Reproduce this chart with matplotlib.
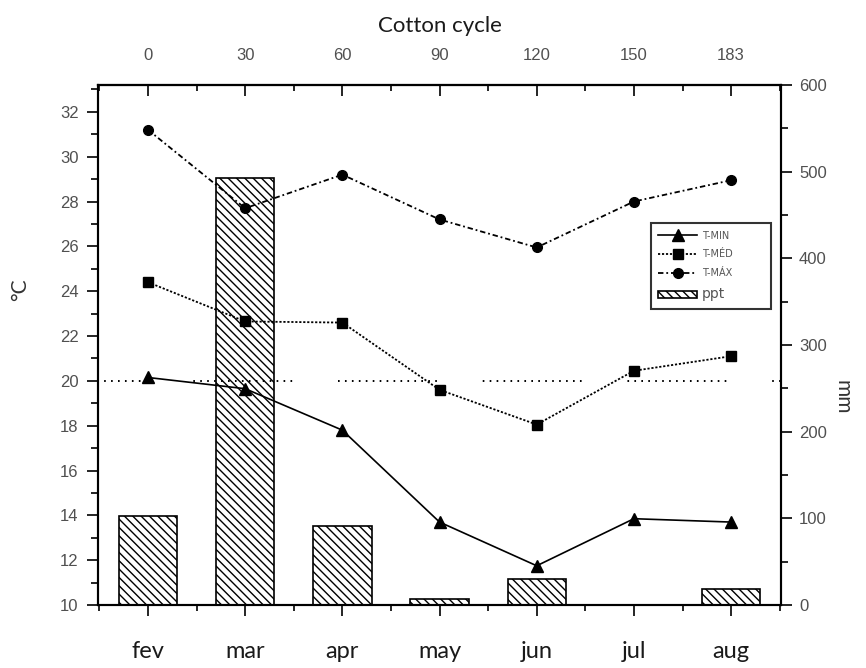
import numpy as np
import matplotlib.pyplot as plt
from matplotlib.ticker import MultipleLocator, FixedLocator

months = ['fev', 'mar', 'apr', 'may', 'jun', 'jul', 'aug']
cycle_days = ['0', '30', '60', '90', '120', '150', '183']
t_max = [31.2, 27.7, 29.2, 27.2, 25.95, 28.0, 28.95]
t_med = [24.4, 22.65, 22.6, 19.6, 18.05, 20.45, 21.1]
t_min = [20.15, 19.65, 17.8, 13.7, 11.75, 13.85, 13.7]
ppt = [103, 493, 91, 7, 30, 0, 18]
ref_temp = 20

plt.rcParams['hatch.linewidth'] = 1.0
tick_font = 'Liberation Sans'
label_font = 'Lato'
tick_col = '#505050'

fig = plt.figure(figsize=(8.66, 6.68), dpi=100)
ax = fig.add_axes([0.1132, 0.0943, 0.7887, 0.7785])
ax2 = ax.twinx()
ax.set_zorder(ax2.get_zorder() + 1)
ax.patch.set_visible(False)

x = np.arange(len(months))

# precipitation bars (right axis)
bars = ax2.bar(x, ppt, width=0.6, color='white', edgecolor='black',
               hatch='\\\\\\\\', linewidth=1.2, label='ppt')

# temperatures (left axis)
l_min, = ax.plot(x, t_min, color='black', lw=1.2, marker='^', ms=8,
                 label='T-MIN')
l_med, = ax.plot(x, t_med, color='black', lw=1.3, ls=(0, (1.2, 1.0)),
                 marker='s', ms=6.5, label='T-MÉD')
l_max, = ax.plot(x, t_max, color='black', lw=1.3, ls=(0, (3, 1.6, 1, 1.6)),
                 marker='o', ms=7, label='T-MÁX')
# dotted 20 °C line, broken into runs of dots
dash = np.array([1.2, 3.8] * 14 + [1.2, 33])
ax.axhline(ref_temp, color='black', lw=1.4,
           ls=(35.6 / 1.4, list(dash / 1.4)))

ax.set_xlim(-0.514, 6.514)
ax.set_ylim(10, 33.2)
ax2.set_ylim(0, 600)

for a in (ax, ax2):
    for s in a.spines.values():
        s.set_linewidth(1.5)

# bottom axis
ax.set_xticks(x, months)
ax.xaxis.set_minor_locator(FixedLocator(np.arange(-0.5, 7, 1)))
ax.tick_params(axis='x', which='major', direction='out', length=8, width=1.2,
               pad=18, labelsize=17)
ax.tick_params(axis='x', which='minor', direction='out', length=4, width=1.2)
for t in ax.get_xticklabels():
    t.set_fontfamily(label_font)
    t.set_color('#1a1a1a')

# left axis
ax.yaxis.set_major_locator(MultipleLocator(2))
ax.yaxis.set_minor_locator(MultipleLocator(1))
ax.tick_params(axis='y', which='major', direction='out', length=8, width=1.2,
               labelsize=12, labelcolor=tick_col, pad=6)
ax.tick_params(axis='y', which='minor', direction='out', length=5, width=1.2)
for t in ax.get_yticklabels():
    t.set_fontfamily(tick_font)
ax.set_ylabel('°C', fontsize=15, family=label_font, color='#333333')
ax.yaxis.set_label_coords(-0.1, 0.606)

# right axis
ax2.yaxis.set_major_locator(MultipleLocator(100))
ax2.yaxis.set_minor_locator(MultipleLocator(50))
ax2.tick_params(axis='y', which='major', direction='out', length=8, width=1.2,
                labelsize=12, labelcolor=tick_col, pad=5)
ax2.tick_params(axis='y', which='minor', direction='out', length=5, width=1.2)
for t in ax2.get_yticklabels():
    t.set_fontfamily(tick_font)
ax2.set_ylabel('mm', fontsize=15, family=label_font, color='#333333',
               rotation=-90)
ax2.yaxis.set_label_coords(1.105, 0.4)

# top axis: days of the cotton cycle
top = ax.secondary_xaxis('top')
top.set_xticks(x, cycle_days)
top.xaxis.set_minor_locator(FixedLocator(np.arange(-0.5, 7, 1)))
top.tick_params(axis='x', which='major', direction='in', length=8, width=1.2,
                labelsize=12, labelcolor=tick_col, pad=16)
top.tick_params(axis='x', which='minor', direction='in', length=4, width=1.2)
for t in top.get_xticklabels():
    t.set_fontfamily(tick_font)
top.spines['top'].set_linewidth(1.5)
top.set_xlabel('Cotton cycle', fontsize=16, family=label_font,
               color='#1a1a1a', labelpad=11)

leg = ax.legend(handles=[l_min, l_med, l_max, bars],
                loc='upper left', bbox_to_anchor=(0.802, 0.587, 0.191, 0.157),
                mode='expand', fontsize=7, frameon=True, fancybox=False,
                edgecolor='black', handlelength=4, labelspacing=0.9,
                borderpad=0.8, handletextpad=0.5)
leg.get_frame().set_linewidth(1.5)
for t in leg.get_texts():
    t.set_color('#555555')
leg.get_texts()[3].set_fontsize(10)

fig.savefig('out.png', dpi=100)
